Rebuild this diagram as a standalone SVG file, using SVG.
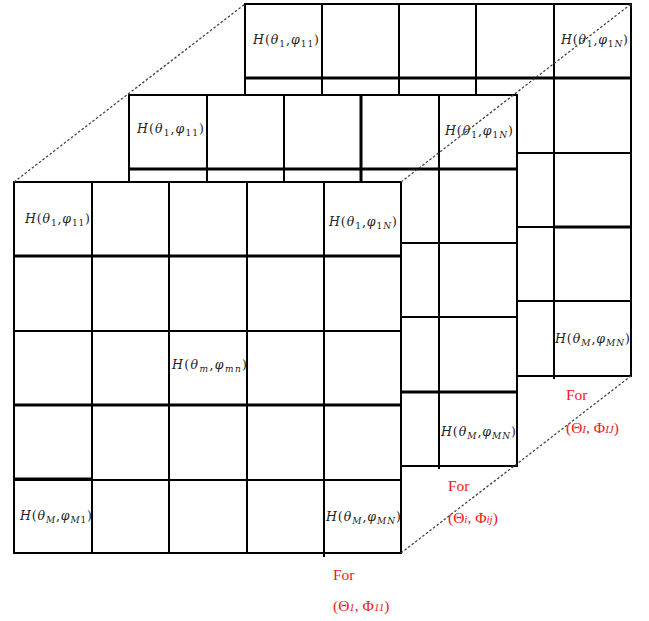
<svg xmlns="http://www.w3.org/2000/svg" width="649" height="621" viewBox="0 0 649 621">
<style>
.bg{fill:#fff;stroke:none}
.g{stroke:#000;stroke-width:2;fill:none}
.t{stroke:#000;stroke-width:3;fill:none}
.dot{stroke:#444;stroke-width:1.3;stroke-dasharray:2.5 2;fill:none}
.m{font-family:"DejaVu Serif","Liberation Serif",serif;font-size:12.5px;fill:#222}
.i{font-style:italic}
.s{font-size:9px}
.r{font-family:"Liberation Serif",serif;font-size:15.5px;fill:#f01818}
.rs{font-size:11px;font-style:italic}
</style>
<rect width="649" height="621" fill="#fff"/>

<g id="back-layer">
<rect class="bg" x="245" y="4" width="386" height="372"/>
<rect class="g" x="245" y="4" width="386" height="372"/>
<path class="g" d="M322 4V376M399 4V376M476 4V376M554 4V379M245 78H631M245 153H631M245 227H631M245 301H631"/>
<path class="t" d="M245 78H631M554 227H631"/>
<text class="m" x="253" y="44" textLength="66" lengthAdjust="spacing"><tspan class="i">H</tspan>(<tspan class="i">θ</tspan><tspan class="s" dy="3">1</tspan><tspan dy="-3">,</tspan><tspan class="i">φ</tspan><tspan class="s" dy="3">11</tspan><tspan dy="-3">)</tspan></text>
<text class="m" x="561" y="44" textLength="67" lengthAdjust="spacing"><tspan class="i">H</tspan>(<tspan class="i">θ</tspan><tspan class="s" dy="3">1</tspan><tspan dy="-3">,</tspan><tspan class="i">φ</tspan><tspan class="s" dy="3">1<tspan class="i">N</tspan></tspan><tspan dy="-3">)</tspan></text>
<text class="m" x="555" y="343" textLength="75" lengthAdjust="spacing"><tspan class="i">H</tspan>(<tspan class="i">θ</tspan><tspan class="s i" dy="3">M</tspan><tspan dy="-3">,</tspan><tspan class="i">φ</tspan><tspan class="s i" dy="3">MN</tspan><tspan dy="-3">)</tspan></text>
</g>

<g id="middle-layer">
<rect class="bg" x="129" y="95" width="388" height="371"/>
<rect class="g" x="129" y="95" width="388" height="371"/>
<path class="g" d="M207 95V466M284 95V466M361 95V466M439 95V469M129 169H517M129 243H517M129 317H517M129 392H517"/>
<path class="t" d="M129 169H517M361 95V182M401 392H517"/>
<text class="m" x="137" y="133" textLength="67" lengthAdjust="spacing"><tspan class="i">H</tspan>(<tspan class="i">θ</tspan><tspan class="s" dy="3">1</tspan><tspan dy="-3">,</tspan><tspan class="i">φ</tspan><tspan class="s" dy="3">11</tspan><tspan dy="-3">)</tspan></text>
<text class="m" x="445" y="135" textLength="68" lengthAdjust="spacing"><tspan class="i">H</tspan>(<tspan class="i">θ</tspan><tspan class="s" dy="3">1</tspan><tspan dy="-3">,</tspan><tspan class="i">φ</tspan><tspan class="s" dy="3">1<tspan class="i">N</tspan></tspan><tspan dy="-3">)</tspan></text>
<text class="m" x="441" y="436" textLength="75" lengthAdjust="spacing"><tspan class="i">H</tspan>(<tspan class="i">θ</tspan><tspan class="s i" dy="3">M</tspan><tspan dy="-3">,</tspan><tspan class="i">φ</tspan><tspan class="s i" dy="3">MN</tspan><tspan dy="-3">)</tspan></text>
</g>

<g id="front-layer">
<rect class="bg" x="14" y="182" width="387" height="371"/>
<rect class="g" x="14" y="182" width="387" height="371"/>
<path class="g" d="M92 182V553M169 182V553M247 182V553M324 182V557M14 256H401M14 331H401M14 405H401M14 480H401"/>
<path class="t" d="M14 256H401M14 405H401M14 479H92"/>
<text class="m" x="25" y="223" textLength="65" lengthAdjust="spacing"><tspan class="i">H</tspan>(<tspan class="i">θ</tspan><tspan class="s" dy="3">1</tspan><tspan dy="-3">,</tspan><tspan class="i">φ</tspan><tspan class="s" dy="3">11</tspan><tspan dy="-3">)</tspan></text>
<text class="m" x="329" y="226" textLength="68" lengthAdjust="spacing"><tspan class="i">H</tspan>(<tspan class="i">θ</tspan><tspan class="s" dy="3">1</tspan><tspan dy="-3">,</tspan><tspan class="i">φ</tspan><tspan class="s" dy="3">1<tspan class="i">N</tspan></tspan><tspan dy="-3">)</tspan></text>
<text class="m" x="172" y="369" textLength="75" lengthAdjust="spacing"><tspan class="i">H</tspan>(<tspan class="i">θ</tspan><tspan class="s i" dy="3">m</tspan><tspan dy="-3">,</tspan><tspan class="i">φ</tspan><tspan class="s i" dy="3">mn</tspan><tspan dy="-3">)</tspan></text>
<text class="m" x="20" y="520" textLength="72" lengthAdjust="spacing"><tspan class="i">H</tspan>(<tspan class="i">θ</tspan><tspan class="s i" dy="3">M</tspan><tspan dy="-3">,</tspan><tspan class="i">φ</tspan><tspan class="s" dy="3"><tspan class="i">M</tspan>1</tspan><tspan dy="-3">)</tspan></text>
<text class="m" x="326" y="521" textLength="75" lengthAdjust="spacing"><tspan class="i">H</tspan>(<tspan class="i">θ</tspan><tspan class="s i" dy="3">M</tspan><tspan dy="-3">,</tspan><tspan class="i">φ</tspan><tspan class="s i" dy="3">MN</tspan><tspan dy="-3">)</tspan></text>
</g>

<g id="connectors">
<path class="dot" d="M14 182L245 4"/>
<path class="dot" d="M401 182L631 4"/>
<path class="dot" d="M401 553L631 376"/>
</g>

<g id="captions">
<text class="r" x="333" y="580">For</text>
<text class="r" x="333" y="611">(Θ<tspan class="rs">1</tspan>, Φ<tspan class="rs">11</tspan>)</text>
<text class="r" x="448" y="491">For</text>
<text class="r" x="448" y="523">(Θ<tspan class="rs">i</tspan>, Φ<tspan class="rs">ij</tspan>)</text>
<text class="r" x="566" y="400">For</text>
<text class="r" x="566" y="433">(Θ<tspan class="rs">I</tspan>, Φ<tspan class="rs">IJ</tspan>)</text>
</g>
</svg>
